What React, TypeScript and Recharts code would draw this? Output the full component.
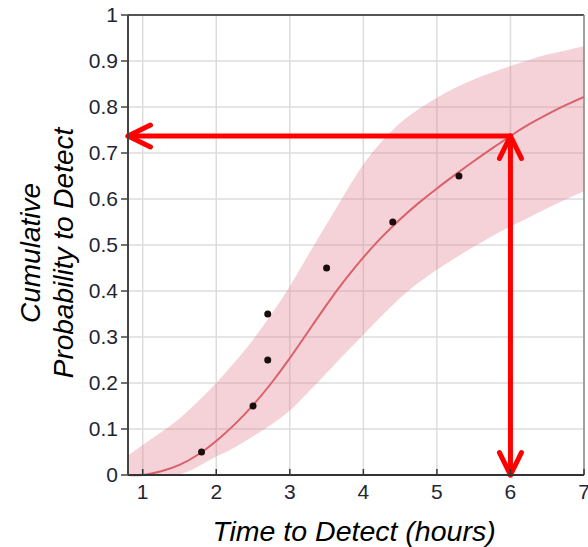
import React from 'react';
import {
    ComposedChart,
    Area,
    Line,
    Scatter,
    XAxis,
    YAxis,
    CartesianGrid,
    ReferenceLine,
} from 'recharts';

// fitted curve + confidence band
const TIME = [0.8, 1, 1.25, 1.5, 1.75, 2, 2.25, 2.5, 2.75, 3, 3.25, 3.5, 3.75, 4, 4.25, 4.5, 4.75, 5, 5.25, 5.5, 5.75, 6, 6.25, 6.5, 6.75, 7];
const FIT = [0, 0, 0.008, 0.022, 0.044, 0.074, 0.11, 0.152, 0.2, 0.254, 0.312, 0.37, 0.424, 0.473, 0.517, 0.556, 0.591, 0.623, 0.653, 0.682, 0.71, 0.737, 0.762, 0.784, 0.804, 0.822];
const LOWER = [0, 0, 0, 0.002, 0.018, 0.04, 0.06, 0.084, 0.11, 0.14, 0.18, 0.222, 0.264, 0.305, 0.346, 0.385, 0.418, 0.446, 0.472, 0.496, 0.519, 0.54, 0.56, 0.58, 0.599, 0.617];
const UPPER = [0.042, 0.065, 0.093, 0.123, 0.16, 0.2, 0.245, 0.294, 0.35, 0.41, 0.478, 0.545, 0.612, 0.675, 0.725, 0.765, 0.795, 0.82, 0.842, 0.86, 0.875, 0.889, 0.902, 0.914, 0.923, 0.932];

// observed detections
const OBS_TIME = [1.8, 2.5, 2.7, 2.7, 3.5, 4.4, 5.3];
const OBS_PROB = [0.05, 0.15, 0.25, 0.35, 0.45, 0.55, 0.65];

const X_TICKS = [1, 2, 3, 4, 5, 6, 7];
const Y_TICKS = [0, 0.1, 0.2, 0.3, 0.4, 0.5, 0.6, 0.7, 0.8, 0.9, 1];
const Y_LABELS = ['0', '0.1', '0.2', '0.3', '0.4', '0.5', '0.6', '0.7', '0.8', '0.9', '1'];

// the "read-off" annotation
const READ_TIME = 6;
const READ_PROB = 0.737;

const curveData = TIME.map((t, i) => ({ x: t, fit: FIT[i], band: [LOWER[i], UPPER[i]] }));
const obsData = OBS_TIME.map((t, i) => ({ x: t, y: OBS_PROB[i] }));

const FONT = '"Liberation Sans", Arial, sans-serif';
const ARROW_RED = '#ff0000';
const TICK_TEXT = '#1f2633';

function chevron(tx: number, ty: number, ux: number, uy: number) {
    // ux,uy = unit vector pointing towards the tip
    const len = 25;
    const ang = (26 * Math.PI) / 180;
    const bx = -ux, by = -uy;
    const c = Math.cos(ang), s = Math.sin(ang);
    const ax1 = tx + len * (bx * c - by * s);
    const ay1 = ty + len * (bx * s + by * c);
    const ax2 = tx + len * (bx * c + by * s);
    const ay2 = ty + len * (-bx * s + by * c);
    return `M${ax1},${ay1} L${tx},${ty} L${ax2},${ay2}`;
}

const arrowShape = (both: boolean) => (props: any) => {
    const { x1, y1, x2, y2 } = props;
    const d = Math.hypot(x2 - x1, y2 - y1) || 1;
    const ux = (x2 - x1) / d, uy = (y2 - y1) / d;
    return (
        <g>
            <line x1={x1} y1={y1} x2={x2} y2={y2} stroke={ARROW_RED} strokeWidth={5} strokeLinecap="round" />
            <path d={chevron(x2, y2, ux, uy)} fill="none" stroke={ARROW_RED} strokeWidth={5} strokeLinecap="round" strokeLinejoin="round" />
            {both && (
                <path d={chevron(x1, y1, -ux, -uy)} fill="none" stroke={ARROW_RED} strokeWidth={5} strokeLinecap="round" strokeLinejoin="round" />
            )}
        </g>
    );
};

// bottom ticks point inwards, labels sit below the axis
const XTick = (props: any) => {
    const { x, y, payload } = props;
    return (
        <g>
            <line x1={x} y1={y} x2={x} y2={y - 6} stroke="#333" strokeWidth={1.5} />
            <text x={x} y={y + 9} dy="0.71em" textAnchor="middle" fontSize={21} fontFamily={FONT} fill={TICK_TEXT}>
                {payload.value}
            </text>
        </g>
    );
};

const YTick = (props: any) => {
    const { x, y, payload, index } = props;
    return (
        <text x={x} y={y} dy="0.355em" textAnchor="end" fontSize={21} fontFamily={FONT} fill={TICK_TEXT}>
            {Y_LABELS[index] ?? payload.value}
        </text>
    );
};

export default function App() {
    return (
        <div style={{ position: 'absolute', left: 0, top: 0, width: 588, height: 547, background: '#fff' }}>
            <ComposedChart width={588} height={547} data={curveData} margin={{ top: 15, right: 4, bottom: 32, left: 68 }}>
                <CartesianGrid stroke="#dcdcdc" strokeWidth={1.5} />
                <XAxis
                    dataKey="x"
                    type="number"
                    domain={[0.8, 7]}
                    ticks={X_TICKS}
                    allowDataOverflow
                    height={40}
                    tickSize={0}
                    tickMargin={0}
                    tickLine={false}
                    tick={<XTick />}
                    axisLine={{ stroke: '#333', strokeWidth: 2 }}
                />
                <YAxis
                    type="number"
                    domain={[0, 1]}
                    ticks={Y_TICKS}
                    width={60}
                    tickSize={7}
                    tickMargin={3}
                    tickLine={{ stroke: '#444', strokeWidth: 1.5 }}
                    tick={<YTick />}
                    axisLine={{ stroke: '#444', strokeWidth: 2 }}
                />
                <ReferenceLine y={1} stroke="#555" strokeWidth={2} />
                <ReferenceLine x={7} stroke="#888" strokeWidth={1.5} />
                <Area
                    type="natural"
                    dataKey="band"
                    stroke="none"
                    fill="#e17f8c"
                    fillOpacity={0.35}
                    isAnimationActive={false}
                    activeDot={false}
                />
                <Line
                    type="natural"
                    dataKey="fit"
                    stroke="#d9606c"
                    strokeWidth={2}
                    dot={false}
                    activeDot={false}
                    isAnimationActive={false}
                />
                <Scatter
                    data={obsData}
                    dataKey="y"
                    fill="#1a0d0d"
                    isAnimationActive={false}
                    shape={(p: any) => <circle cx={p.cx} cy={p.cy} r={3.5} fill="#1a0d0d" />}
                />
                <ReferenceLine
                    segment={[{ x: READ_TIME, y: READ_PROB }, { x: 0.8, y: READ_PROB }]}
                    ifOverflow="visible"
                    shape={arrowShape(false)}
                />
                <ReferenceLine
                    segment={[{ x: READ_TIME, y: READ_PROB }, { x: READ_TIME, y: 0 }]}
                    ifOverflow="visible"
                    shape={arrowShape(true)}
                />
                <text x={354} y={541} textAnchor="middle" fontSize={28.5} fontStyle="italic" fontFamily={FONT} fill="#000">
                    Time to Detect (hours)
                </text>
                <text
                    transform="translate(30,253) rotate(-90)"
                    textAnchor="middle"
                    dominantBaseline="central"
                    fontSize={28}
                    fontStyle="italic"
                    fontFamily={FONT}
                    fill="#000"
                >
                    Cumulative
                </text>
                <text
                    transform="translate(63,253) rotate(-90)"
                    textAnchor="middle"
                    dominantBaseline="central"
                    fontSize={28}
                    fontStyle="italic"
                    fontFamily={FONT}
                    fill="#000"
                >
                    Probability to Detect
                </text>
            </ComposedChart>
        </div>
    );
}
